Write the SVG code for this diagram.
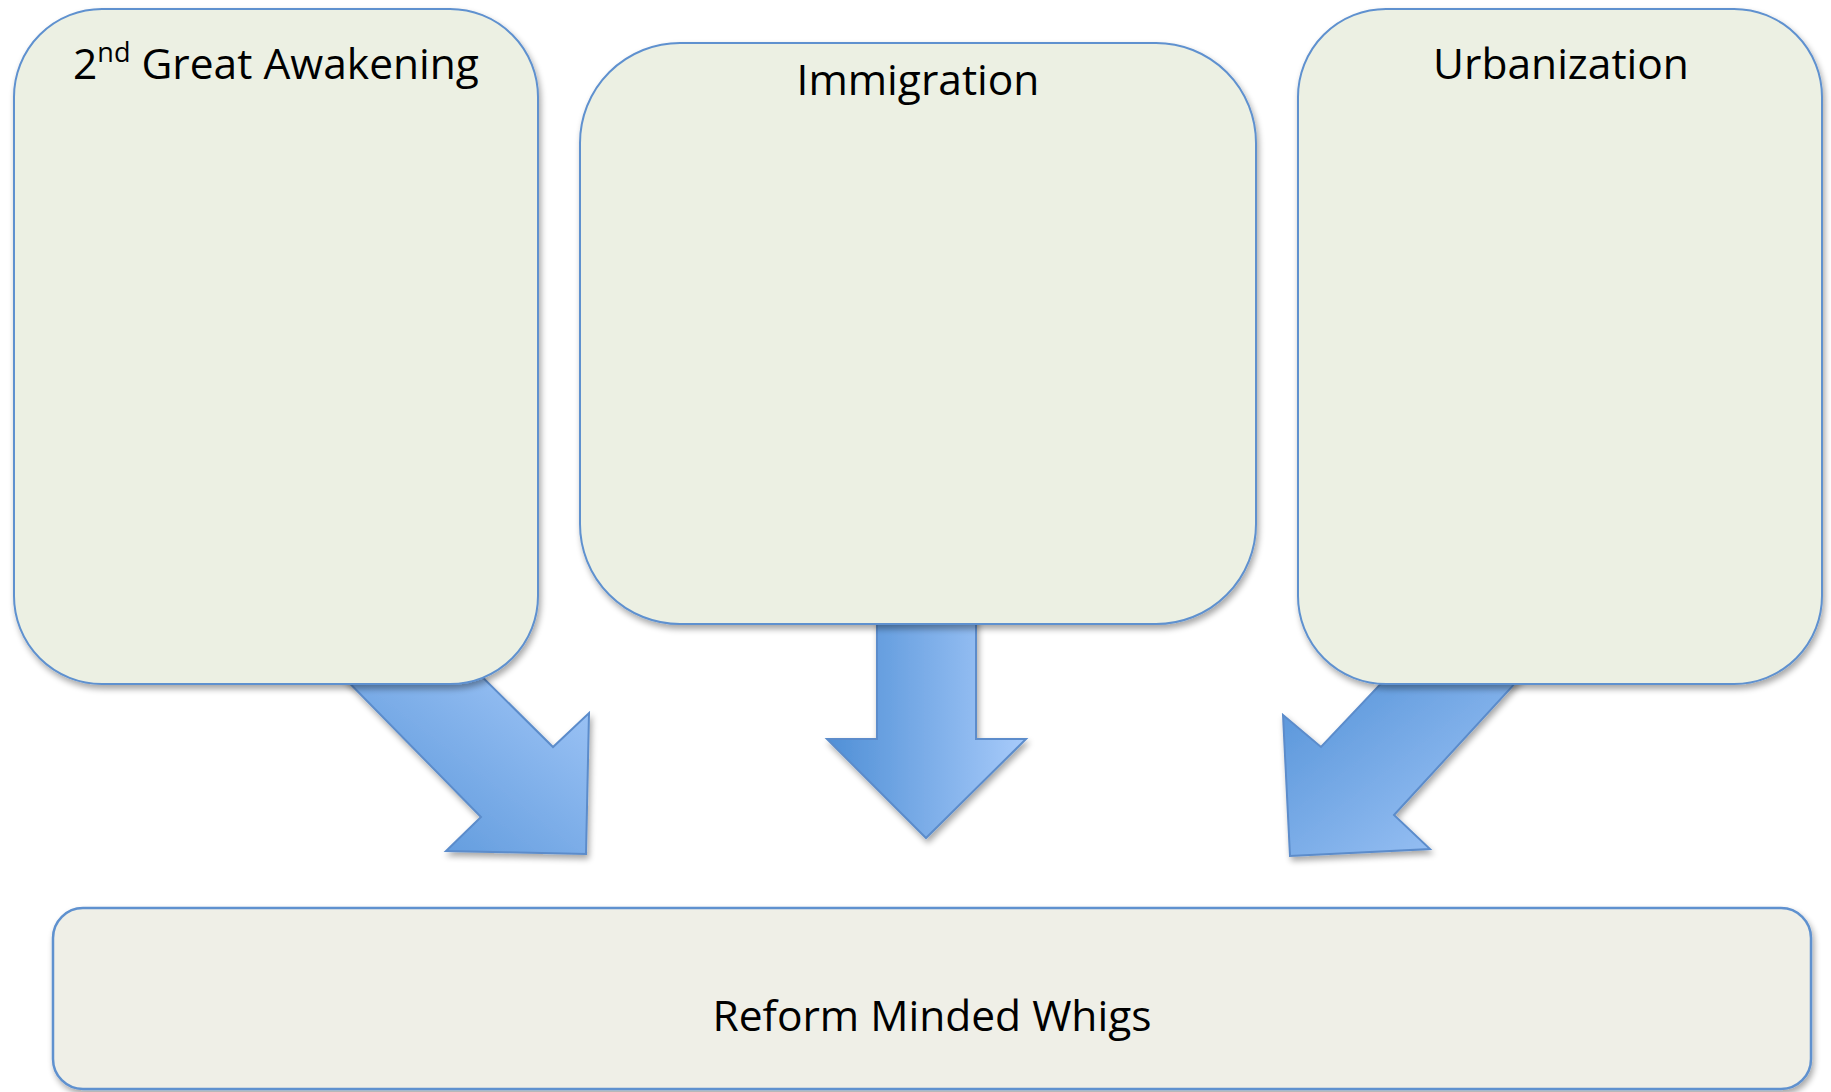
<svg xmlns="http://www.w3.org/2000/svg" width="1831" height="1092" viewBox="0 0 1831 1092">
<defs>
<style>
.box{fill:#ecf0e3;stroke:#5f91cf;stroke-width:2;filter:url(#sh)}
.bbox{fill:#efefe7;stroke:#5f91cf;stroke-width:2.5;filter:url(#sh)}
.arr{stroke:#5b8ccb;stroke-width:2;filter:url(#sh)}
.lbl{font-family:"Open Sans","Liberation Sans",sans-serif;font-size:42.5px;fill:#000;text-anchor:middle}
</style>
<filter id="sh" x="-10%" y="-10%" width="120%" height="120%">
<feGaussianBlur in="SourceAlpha" stdDeviation="3"/>
<feOffset dx="2" dy="4" result="b"/>
<feComponentTransfer><feFuncA type="linear" slope="0.35"/></feComponentTransfer>
<feMerge><feMergeNode/><feMergeNode in="SourceGraphic"/></feMerge>
</filter>
<linearGradient id="g1" x1="0" y1="1" x2="1" y2="0">
<stop offset="0" stop-color="#4f8fd6"/><stop offset="1" stop-color="#a8cbfa"/>
</linearGradient>
<linearGradient id="g2" x1="0" y1="0" x2="1" y2="0">
<stop offset="0" stop-color="#4f8fd6"/><stop offset="1" stop-color="#a8cbfa"/>
</linearGradient>
<linearGradient id="g3" x1="0" y1="0" x2="1" y2="1">
<stop offset="0" stop-color="#4f8fd6"/><stop offset="1" stop-color="#a8cbfa"/>
</linearGradient>
</defs>
<rect width="1831" height="1092" fill="#fff"/>
<g id="connectors">
<polygon class="arr" fill="url(#g1)" points="316,649 481,817 446,851 586,854 589,713 553,747 447,642"/>
<polygon class="arr" fill="url(#g2)" points="877,600 877,739 827,739 926,838 1026,739 976,739 976,600"/>
<polygon class="arr" fill="url(#g3)" points="1542,654 1394,815 1430,849 1290,856 1283,715 1321,747 1408,655"/>
</g>
<g id="node-awakening">
<rect class="box" x="14" y="9" width="524" height="675" rx="88" ry="88"/>
<text class="lbl" x="276" y="79">2<tspan font-size="27" dy="-17">nd</tspan><tspan dy="17"> Great Awakening</tspan></text>
</g>
<g id="node-immigration">
<rect class="box" x="580" y="43" width="676" height="581" rx="100" ry="100"/>
<text class="lbl" x="918" y="95">Immigration</text>
</g>
<g id="node-urbanization">
<rect class="box" x="1298" y="9" width="524" height="675" rx="88" ry="88"/>
<text class="lbl" x="1561" y="79">Urbanization</text>
</g>
<g id="node-whigs">
<rect class="bbox" x="53" y="908" width="1758" height="181" rx="30" ry="30"/>
<text class="lbl" x="932" y="1031">Reform Minded Whigs</text>
</g>
</svg>
